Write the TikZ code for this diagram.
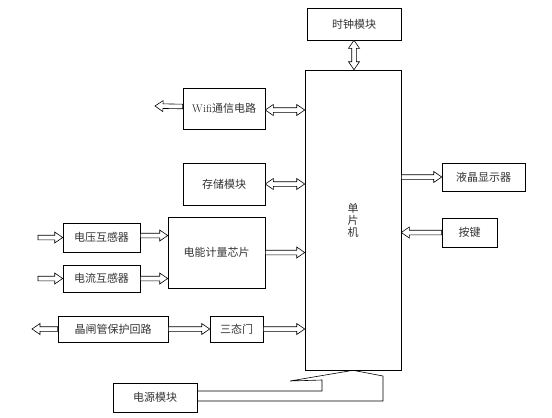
\documentclass[tikz,border=0pt]{standalone}
\usepackage{fontspec}
\newfontfamily\cjk{Noto Sans CJK SC}
\usepackage{xcolor}
\usetikzlibrary{calc}
\usetikzlibrary{positioning}

% hollow arrow, tail #1, head #2
\newcommand{\fatarrow}[2]{%
  \coordinate (fa-t) at (#1);
  \coordinate (fa-h) at (#2);
  \coordinate (fa-n) at ($(fa-h)!8pt!(fa-t)$);
  \draw[fat] ($(fa-t)!2.3pt!90:(fa-h)$) -- ($(fa-n)!2.3pt!90:(fa-h)$)
    -- ($(fa-n)!5.5pt!90:(fa-h)$) -- (fa-h) -- ($(fa-n)!5.5pt!-90:(fa-h)$)
    -- ($(fa-n)!2.3pt!-90:(fa-h)$) -- ($(fa-t)!2.3pt!-90:(fa-h)$) -- cycle;}
% hollow arrow with two heads
\newcommand{\fatdarrow}[2]{%
  \coordinate (fa-t) at (#1);
  \coordinate (fa-h) at (#2);
  \coordinate (fa-n) at ($(fa-h)!8pt!(fa-t)$);
  \coordinate (fa-m) at ($(fa-t)!8pt!(fa-h)$);
  \draw[fat] (fa-t) -- ($(fa-m)!5.5pt!90:(fa-h)$) -- ($(fa-m)!2.3pt!90:(fa-h)$)
    -- ($(fa-n)!2.3pt!90:(fa-h)$) -- ($(fa-n)!5.5pt!90:(fa-h)$) -- (fa-h)
    -- ($(fa-n)!5.5pt!-90:(fa-h)$) -- ($(fa-n)!2.3pt!-90:(fa-h)$)
    -- ($(fa-m)!2.3pt!-90:(fa-h)$) -- ($(fa-m)!5.5pt!-90:(fa-h)$) -- cycle;}

\begin{document}
\begin{tikzpicture}[
  x=1pt, y=-1pt,
  box/.style={draw, line width=0.6pt, inner sep=0pt, font=\cjk\fontsize{11}{13}\selectfont, text=black!80},
  fat/.style={draw, line width=0.6pt, fill=white, line join=miter},
  line/.style={draw, line width=0.6pt}
]
\useasboundingbox (0,0) rectangle (552,418);

\node[box, minimum width=94pt, minimum height=32pt] (clock) at (354,24) {时钟模块};
\node[box, minimum width=96pt, minimum height=300pt, align=center] (mcu) at (353,220)
  {单\\[-1pt]片\\[-1pt]机};
\node[box, minimum width=82pt, minimum height=41pt] (wifi) at (224,108.5)
  {{\rmfamily\fontsize{11}{13}\selectfont Wifi}通信电路};
\node[box, minimum width=82pt, minimum height=42pt] (store) at (224,184) {存储模块};
\node[box, minimum width=77pt, minimum height=29pt] (volt) at (101.5,237.5) {电压互感器};
\node[box, minimum width=77pt, minimum height=27pt] (curr) at (101.5,278.5) {电流互感器};
\node[box, minimum width=97pt, minimum height=71pt] (chip) at (216.5,252.5) {电能计量芯片};
\node[box, minimum width=110pt, minimum height=26pt] (scr) at (113,329) {晶闸管保护回路};
\node[box, minimum width=53pt, minimum height=26pt] (gate) at (236.5,329) {三态门};
\node[box, minimum width=84pt, minimum height=29pt] (power) at (155,397.5) {电源模块};
\node[box, minimum width=83pt, minimum height=28pt] (lcd) at (483.5,177) {液晶显示器};
\node[box, minimum width=55pt, minimum height=29pt] (key) at (469.5,232.5) {按键};

\coordinate (wifi-out) at (155,106);
\coordinate (volt-in) at (38,237.5);
\coordinate (curr-in) at (38,278.5);
\coordinate (scr-out) at (32,329);

\fatdarrow{clock.south}{clock.south |- mcu.north}
\fatarrow{[yshift=2pt]wifi.west}{wifi-out}
\fatdarrow{[yshift=-1.5pt]wifi.east}{[yshift=-1.5pt]wifi.east -| mcu.west}
\fatdarrow{store.east}{store.east -| mcu.west}
\fatarrow{volt-in}{volt.west}
\fatarrow{[yshift=2pt]volt.east}{[yshift=2pt]volt.east -| chip.west}
\fatarrow{curr-in}{curr.west}
\fatarrow{curr.east}{curr.east -| chip.west}
\fatarrow{chip.east}{chip.east -| mcu.west}
\fatarrow{scr.west}{scr-out}
\fatarrow{scr.east}{gate.west}
\fatarrow{gate.east}{gate.east -| mcu.west}
\fatarrow{lcd.west -| mcu.east}{lcd.west}
\fatarrow{key.west}{key.west -| mcu.east}

% power supply arrow
\draw[line] (power.east |- 0,391) -- (322,391) -- (322,380) -- (290,381) -- (mcu.south)
  -- (383,376) -- (383,401) -- (power.east |- 0,401);
\end{tikzpicture}
\end{document}
